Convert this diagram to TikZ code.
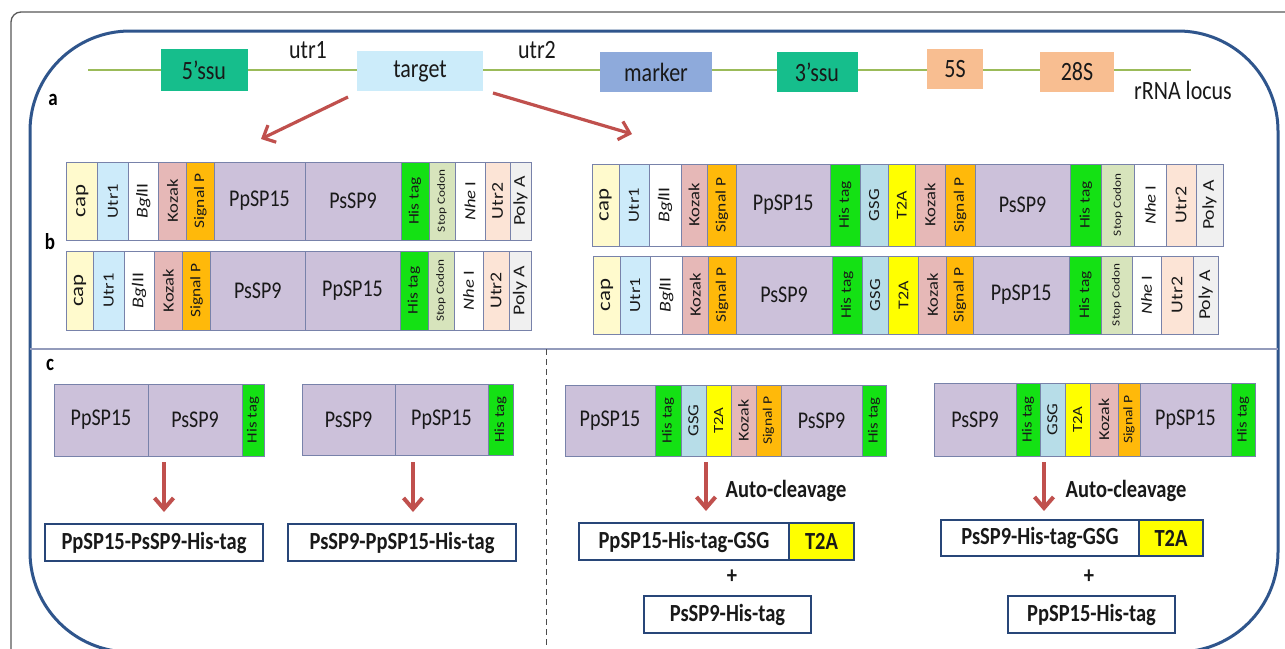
\documentclass[tikz,border=0pt]{standalone}
\usepackage{fontspec}
\setmainfont{Carlito}
\usetikzlibrary{arrows.meta}
\definecolor{teal}{RGB}{22,190,140}
\definecolor{tgt}{RGB}{204,236,250}
\definecolor{mark}{RGB}{142,170,219}
\definecolor{peach}{RGB}{248,190,145}
\definecolor{lgreen}{RGB}{155,187,89}
\definecolor{capc}{RGB}{255,250,205}
\definecolor{utra}{RGB}{205,235,250}
\definecolor{koz}{RGB}{230,184,183}
\definecolor{sigp}{RGB}{255,185,10}
\definecolor{purp}{RGB}{204,193,218}
\definecolor{his}{RGB}{20,225,20}
\definecolor{stopc}{RGB}{215,228,188}
\definecolor{utrb}{RGB}{252,228,214}
\definecolor{polya}{RGB}{240,240,240}
\definecolor{gsg}{RGB}{183,221,232}
\definecolor{tta}{RGB}{255,255,0}
\definecolor{cellline}{RGB}{120,130,170}
\definecolor{resline}{RGB}{40,70,120}
\definecolor{arr}{RGB}{192,80,77}
\definecolor{bluefr}{RGB}{47,85,140}
\definecolor{txt}{RGB}{25,25,25}
\newcommand\fs[1]{\fontsize{#1}{#1}\selectfont}
\newcommand\vs[1]{\scalebox{1}[1.2]{#1}}
\newcommand\rt[2][16]{\fs{#1}\rotatebox{90}{\scalebox{1.2}[1]{#2}}}
\newcommand\cb[7]{\node[cell,fill=#6,minimum width={#3-#2},minimum height={#5-#4}] (#1) at (#2,#4) {#7};}
\tikzset{
  cell/.style={draw=cellline, line width=0.9pt, inner sep=0pt, outer sep=0pt, anchor=north west, text=txt, font=\fs{20}},
  locus/.style={inner sep=0pt, outer sep=0pt, text=txt, font=\fs{22}},
  lbl/.style={text=txt, font=\fs{22}},
  panel/.style={text=black, font=\fs{19}\bfseries},
  res/.style={draw=resline, line width=1.4pt, fill=white, inner sep=0pt, outer sep=0pt, anchor=north west, text=txt, font=\fs{20.5}\bfseries},
  redarr/.style={draw=arr, line width=4pt, -{Straight Barb[length=11pt,width=19pt]}},
  toparr/.style={draw=arr, line width=3.2pt, -{Straight Barb[length=10pt,width=19pt]}},
  bold/.style={text=txt, font=\fs{20.5}\bfseries}
}
\begin{document}
\begin{tikzpicture}[x=1pt,y=-1pt]
\useasboundingbox (0,0) rectangle (1285,648);
\clip (0,0) rectangle (1285,648);
\fill[white] (0,0) rectangle (1285,648);
% frames
\draw[gray!70!black, line width=1.3pt, rounded corners=10pt] (11,12) rectangle (1330,690);
\draw[bluefr, line width=3pt, rounded corners=100pt] (30,31) rectangle (1278,652);
\draw[cellline!80, line width=1.5pt] (30,349) -- (1278,349);
\draw[gray!60!black, line width=1pt, dash pattern=on 6pt off 4pt] (546,349) -- (546,648);
% locus
\coordinate (ls) at (88,70);
\coordinate (le) at (1191,70);
\draw[lgreen, line width=2pt] (ls) -- (le);
\node[locus, fill=teal, minimum width=87, minimum height=42] (ssu5) at (204,70) {\vs{5’ssu}};
\node[locus, fill=tgt, minimum width=126, minimum height=40] (target) at (420,71) {\vs{target}};
\node[locus, fill=mark, minimum width=112, minimum height=40] (marker) at (656,72) {\vs{marker}};
\node[locus, fill=teal, minimum width=81, minimum height=40] (ssu3) at (817,72) {\vs{3’ssu}};
\node[locus, fill=peach, minimum width=56, minimum height=40] (s5) at (955,69) {\vs{5S}};
\node[locus, fill=peach, minimum width=74, minimum height=40] (s28) at (1077,72) {\vs{28S}};
\node[lbl] (utr1) at (308,50) {\vs{utr1}};
\node[lbl] (utr2) at (537,50) {\vs{utr2}};
\node[lbl] (rrna) at (1183,90) {\vs{rRNA locus}};
\node[panel] (la) at (53,100) {\vs{a}};
\node[panel] (lb) at (50,242) {\vs{b}};
\node[panel] (lc) at (50,365) {\vs{c}};
\coordinate (a1s) at (348,97);
\coordinate (a1e) at (261,139);
\coordinate (a2s) at (493,93);
\coordinate (a2e) at (632,134);
\draw[toparr] (a1s) -- (a1e);
\draw[toparr] (a2s) -- (a2e);
% panel b left row 1
\cb{l1a}{66.7}{97.7}{162}{240}{capc}{\rt[19]{cap}}
\cb{l1b}{97.7}{128.3}{162}{240}{utra}{\rt[15.5]{Utr1}}
\cb{l1c}{128.3}{158.3}{162}{240}{white}{\rt[16.5]{\textit{Bgl}II}}
\cb{l1d}{158.3}{186.7}{162}{240}{koz}{\rt[15.5]{Kozak}}
\cb{l1e}{186.7}{214}{162}{240}{sigp}{\rt[14.5]{Signal P}}
\cb{l1f}{214}{305}{162}{240}{purp}{\vs{PpSP15}}
\cb{l1g}{305}{401}{162}{240}{purp}{\vs{PsSP9}}
\cb{l1h}{401}{429}{162}{240}{his}{\rt[14.5]{His tag}}
\cb{l1i}{429}{455}{162}{240}{stopc}{\rt[11]{Stop Codon}}
\cb{l1j}{455}{485}{162}{240}{white}{\rt[15.5]{\textit{Nhe} I}}
\cb{l1k}{485}{510}{162}{240}{utrb}{\rt[16.5]{Utr2}}
\cb{l1l}{510}{531}{162}{240}{polya}{\rt[16.5]{Poly A}}
% panel b left row 2
\cb{l2a}{66.7}{93.3}{251}{330}{capc}{\rt[19]{cap}}
\cb{l2b}{93.3}{124}{251}{330}{utra}{\rt[15.5]{Utr1}}
\cb{l2c}{124}{154}{251}{330}{white}{\rt[16.5]{\textit{Bgl}II}}
\cb{l2d}{154}{182.7}{251}{330}{koz}{\rt[15.5]{Kozak}}
\cb{l2e}{182.7}{210.7}{251}{330}{sigp}{\rt[14.5]{Signal P}}
\cb{l2f}{210.7}{305}{251}{330}{purp}{\vs{PsSP9}}
\cb{l2g}{305}{400}{251}{330}{purp}{\vs{PpSP15}}
\cb{l2h}{400}{428}{251}{330}{his}{\rt[14.5]{His tag}}
\cb{l2i}{428}{454}{251}{330}{stopc}{\rt[11]{Stop Codon}}
\cb{l2j}{454}{483}{251}{330}{white}{\rt[15.5]{\textit{Nhe} I}}
\cb{l2k}{483}{509}{251}{330}{utrb}{\rt[16.5]{Utr2}}
\cb{l2l}{509}{531}{251}{330}{polya}{\rt[16.5]{Poly A}}
% panel b right row 1
\cb{r1a}{592}{619}{164}{246}{capc}{\rt[19]{cap}}
\cb{r1b}{619}{649}{164}{246}{utra}{\rt[15.5]{Utr1}}
\cb{r1c}{649}{681}{164}{246}{white}{\rt[16.5]{\textit{Bgl}II}}
\cb{r1d}{681}{707}{164}{246}{koz}{\rt[15.5]{Kozak}}
\cb{r1e}{707}{736.5}{164}{246}{sigp}{\rt[14.5]{Signal P}}
\cb{r1f}{736.5}{830}{164}{246}{purp}{\vs{PpSP15}}
\cb{r1g}{830}{860}{164}{246}{his}{\rt[14.5]{His tag}}
\cb{r1h}{860}{888.5}{164}{246}{gsg}{\rt[15.5]{GSG}}
\cb{r1i}{888.5}{915}{164}{246}{tta}{\rt[15]{T2A}}
\cb{r1j}{915}{945}{164}{246}{koz}{\rt[15.5]{Kozak}}
\cb{r1k}{945}{975}{164}{246}{sigp}{\rt[14.5]{Signal P}}
\cb{r1l}{975}{1070}{164}{246}{purp}{\vs{PsSP9}}
\cb{r1m}{1070}{1101.6}{164}{246}{his}{\rt[14.5]{His tag}}
\cb{r1n}{1101.6}{1134.4}{164}{246}{stopc}{\rt[11]{Stop Codon}}
\cb{r1o}{1134.4}{1166}{164}{246}{white}{\rt[15.5]{\textit{Nhe} I}}
\cb{r1p}{1166}{1196}{164}{246}{utrb}{\rt[16.5]{Utr2}}
\cb{r1q}{1196}{1223}{164}{246}{polya}{\rt[16.5]{Poly A}}
% panel b right row 2
\cb{r2a}{593.5}{620.5}{256}{334}{capc}{\rt[19]{cap}}
\cb{r2b}{620.5}{650}{256}{334}{utra}{\rt[15.5]{Utr1}}
\cb{r2c}{650}{682.5}{256}{334}{white}{\rt[16.5]{\textit{Bgl}II}}
\cb{r2d}{682.5}{708}{256}{334}{koz}{\rt[15.5]{Kozak}}
\cb{r2e}{708}{736}{256}{334}{sigp}{\rt[14.5]{Signal P}}
\cb{r2f}{736}{832}{256}{334}{purp}{\vs{PsSP9}}
\cb{r2g}{832}{862}{256}{334}{his}{\rt[14.5]{His tag}}
\cb{r2h}{862}{888.5}{256}{334}{gsg}{\rt[15.5]{GSG}}
\cb{r2i}{888.5}{918.6}{256}{334}{tta}{\rt[15]{T2A}}
\cb{r2j}{918.6}{946.5}{256}{334}{koz}{\rt[15.5]{Kozak}}
\cb{r2k}{946.5}{973.4}{256}{334}{sigp}{\rt[14.5]{Signal P}}
\cb{r2l}{973.4}{1069}{256}{334}{purp}{\vs{PpSP15}}
\cb{r2m}{1069}{1101.6}{256}{334}{his}{\rt[14.5]{His tag}}
\cb{r2n}{1101.6}{1132}{256}{334}{stopc}{\rt[11]{Stop Codon}}
\cb{r2o}{1132}{1161}{256}{334}{white}{\rt[15.5]{\textit{Nhe} I}}
\cb{r2p}{1161}{1193}{256}{334}{utrb}{\rt[16.5]{Utr2}}
\cb{r2q}{1193}{1218.5}{256}{334}{polya}{\rt[16.5]{Poly A}}
% panel c boxes
\cb{c1a}{54}{148}{384}{456}{purp}{\vs{PpSP15}}
\cb{c1b}{148}{242}{384}{456}{purp}{\vs{PsSP9}}
\cb{c1c}{242}{264}{384}{456}{his}{\rt[14]{His tag}}
\cb{c2a}{302}{395}{384}{455}{purp}{\vs{PsSP9}}
\cb{c2b}{395}{488}{384}{455}{purp}{\vs{PpSP15}}
\cb{c2c}{488}{513}{384}{455}{his}{\rt[14]{His tag}}
\cb{c3a}{565}{655}{385}{456}{purp}{\vs{PpSP15}}
\cb{c3b}{655}{681}{385}{456}{his}{\rt[14]{His tag}}
\cb{c3c}{681}{706}{385}{456}{gsg}{\rt[15.5]{GSG}}
\cb{c3d}{706}{731}{385}{456}{tta}{\rt[14]{T2A}}
\cb{c3e}{731}{756}{385}{456}{koz}{\rt[15]{Kozak}}
\cb{c3f}{756}{781}{385}{456}{sigp}{\rt[13]{Signal P}}
\cb{c3g}{781}{862}{385}{456}{purp}{\vs{PsSP9}}
\cb{c3h}{862}{886}{385}{456}{his}{\rt[14]{His tag}}
\cb{c4a}{934}{1016}{383}{456}{purp}{\vs{PsSP9}}
\cb{c4b}{1016}{1040}{383}{456}{his}{\rt[14]{His tag}}
\cb{c4c}{1040}{1065}{383}{456}{gsg}{\rt[15.5]{GSG}}
\cb{c4d}{1065}{1090}{383}{456}{tta}{\rt[14]{T2A}}
\cb{c4e}{1090}{1118}{383}{456}{koz}{\rt[15]{Kozak}}
\cb{c4f}{1118}{1140}{383}{456}{sigp}{\rt[13]{Signal P}}
\cb{c4g}{1140}{1231}{383}{456}{purp}{\vs{PpSP15}}
\cb{c4h}{1231}{1255}{383}{456}{his}{\rt[14]{His tag}}
% results
\node[res, minimum width=218, minimum height=37] (p1) at (45,524) {\vs{PpSP15-PsSP9-His-tag}};
\node[res, minimum width=228, minimum height=37] (p2) at (288,524) {\vs{PsSP9-PpSP15-His-tag}};
\node[res, minimum width=210, minimum height=37] (p3a) at (579,523) {\vs{PpSP15-His-tag-GSG}};
\node[res, fill=tta, minimum width=65, minimum height=37] (p3b) at (789,523) {\vs{T2A}};
\node[res, minimum width=167, minimum height=37] (p3c) at (644,596) {\vs{PsSP9-His-tag}};
\node[res, minimum width=198, minimum height=36] (p4a) at (941,520) {\vs{PsSP9-His-tag-GSG}};
\node[res, fill=tta, minimum width=64, minimum height=36] (p4b) at (1139,520) {\vs{T2A}};
\node[res, minimum width=167, minimum height=37] (p4c) at (1008,596) {\vs{PpSP15-His-tag}};
\node[bold] (plus3) at (732,577) {\vs{+}};
\node[bold] (plus4) at (1089,577) {\vs{+}};
\node[bold] (ac3) at (786,491) {\vs{Auto-cleavage}};
\node[bold] (ac4) at (1126,491) {\vs{Auto-cleavage}};
% arrows c
\coordinate (d1s) at (164,462); \coordinate (d1e) at (164,512);
\coordinate (d2s) at (413,462); \coordinate (d2e) at (413,512);
\coordinate (d3s) at (706,462); \coordinate (d3e) at (706,511);
\coordinate (d4s) at (1044,462); \coordinate (d4e) at (1044,511);
\draw[redarr] (d1s) -- (d1e);
\draw[redarr] (d2s) -- (d2e);
\draw[redarr] (d3s) -- (d3e);
\draw[redarr] (d4s) -- (d4e);
\end{tikzpicture}
\end{document}
